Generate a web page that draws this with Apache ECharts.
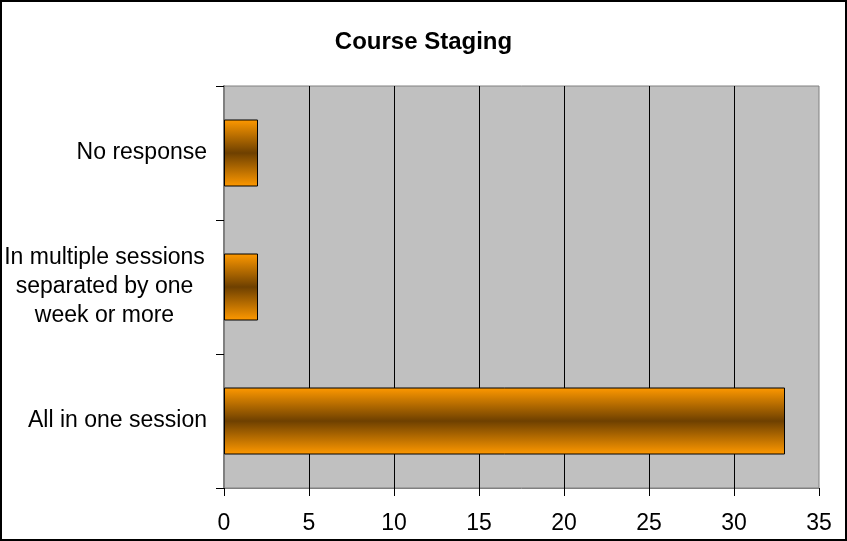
<!DOCTYPE html>
<html>
<head>
<meta charset="utf-8">
<script src="https://cdn.jsdelivr.net/npm/echarts@6/dist/echarts.min.js"></script>
<style>
  html, body { margin: 0; padding: 0; background: #fff; }
  #chart { width: 847px; height: 541px; box-sizing: border-box; border: 2px solid #000; }
</style>
</head>
<body>
<div id="chart"></div>
<script>
// categories bottom to top
const categories = ['All in one session', 'In multiple sessions\nseparated by one\nweek or more', 'No response']
const counts = [33, 2, 2]
const xTicks = [0, 35, 5]  // min, max, step

const chart = echarts.init(document.getElementById('chart'))

chart.setOption({
  animation: false,
  textStyle: { fontFamily: 'Liberation Sans, Arial, sans-serif' },
  title: {
    text: 'Course Staging',
    left: 'center',
    top: 23,
    textStyle: { fontSize: 24, fontWeight: 'bold', color: '#000', fontFamily: 'Liberation Sans, Arial, sans-serif' }
  },
  grid: {
    left: 222,
    right: 26,
    top: 84,
    bottom: 51,
    outerBoundsMode: 'none',
    show: true,
    backgroundColor: '#c0c0c0',
    borderColor: '#808080',
    borderWidth: 1
  },
  xAxis: {
    type: 'value',
    min: xTicks[0],
    max: xTicks[1],
    interval: xTicks[2],
    axisLine: { show: true, lineStyle: { color: '#808080', width: 1 } },
    axisTick: { show: true, length: 8, lineStyle: { color: '#000' } },
    axisLabel: { fontSize: 23, color: '#000', margin: 24 },
    splitLine: { show: true, showMinLine: false, showMaxLine: false, lineStyle: { color: '#000', width: 1 } }
  },
  yAxis: {
    type: 'category',
    data: categories,
    axisLine: { show: true, lineStyle: { color: '#808080', width: 2 } },
    axisTick: { show: true, length: 8, alignWithLabel: false, lineStyle: { color: '#000' } },
    axisLabel: {
      fontSize: 23,
      color: '#000',
      margin: 17,
      lineHeight: 29,
      formatter: function (v) {
        if (v.indexOf('\n') < 0) return v
        return v.split('\n').map(l => '{c|' + l + '}').join('\n')
      },
      rich: {
        c: { width: 205, align: 'center', fontSize: 23, lineHeight: 29, color: '#000' }
      }
    },
    splitLine: { show: false }
  },
  series: [
    {
      type: 'bar',
      data: counts,
      barCategoryGap: '50%',
      itemStyle: {
        borderColor: '#000',
        borderWidth: 1,
        // 上下橙色，中间深棕
        color: new echarts.graphic.LinearGradient(0, 0, 0, 1, [
          { offset: 0, color: '#ff9900' },
          { offset: 0.5, color: '#6e4000' },
          { offset: 1, color: '#ff9900' }
        ])
      }
    }
  ]
})
</script>
</body>
</html>
